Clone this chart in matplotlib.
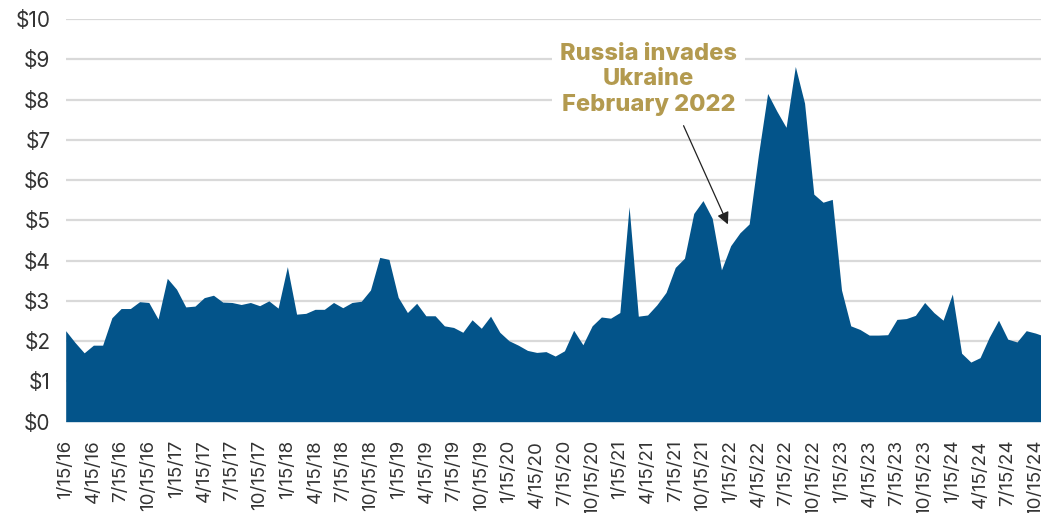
import matplotlib
matplotlib.use("Agg")
import matplotlib.pyplot as plt
import numpy as np
import pandas as pd

# Monthly values (USD), starting 1/15/16
values = [2.26, 1.97, 1.71, 1.90, 1.90, 2.58, 2.81, 2.81, 2.98, 2.96, 2.55, 3.56,
          3.29, 2.85, 2.87, 3.08, 3.14, 2.97, 2.96, 2.91, 2.96, 2.88, 3.00, 2.82,
          3.85, 2.67, 2.69, 2.79, 2.79, 2.96, 2.83, 2.96, 2.99, 3.27, 4.08, 4.03,
          3.09, 2.71, 2.94, 2.63, 2.63, 2.38, 2.34, 2.22, 2.53, 2.32, 2.62, 2.22,
          2.01, 1.90, 1.77, 1.72, 1.74, 1.63, 1.76, 2.27, 1.91, 2.38, 2.60, 2.57,
          2.71, 5.34, 2.62, 2.65, 2.90, 3.21, 3.83, 4.06, 5.17, 5.49, 5.05, 3.77,
          4.37, 4.69, 4.91, 6.62, 8.15, 7.71, 7.31, 8.82, 7.91, 5.65, 5.45, 5.52,
          3.27, 2.38, 2.29, 2.15, 2.15, 2.16, 2.54, 2.56, 2.64, 2.96, 2.71, 2.52,
          3.17, 1.70, 1.48, 1.59, 2.10, 2.52, 2.05, 1.98, 2.26, 2.20, 2.12, 2.50]

dates = pd.date_range("2016-01-01", periods=len(values), freq="MS") + pd.Timedelta(days=14)
date_labels = [f"{d.month}/{d.day}/{d.strftime('%y')}" for d in dates]

y_ticks = list(range(0, 11))
y_labels = [f"${v}" for v in y_ticks]

annotation_text = "Russia invades\nUkraine\nFebruary 2022"

area_color = "#03548a"
gold = "#b39a4f"
grid_color = "#d9d9d9"
text_color = "#333333"

plt.rcParams['font.family'] = ['Inter', 'DejaVu Sans']

fig = plt.figure(figsize=(10.41, 5.13), dpi=100)
ax = fig.add_axes([0.0631, 0.178, 0.9369, 0.785])

x = np.arange(len(values))
ax.fill_between(x, values, 0, color=area_color, linewidth=0, zorder=2)

ax.set_ylim(0, 10)
ax.set_xlim(0, 105.6)
ax.set_yticks(y_ticks)
ax.set_yticklabels(y_labels)
tick_idx = list(range(0, len(values), 3))
ax.set_xticks(tick_idx)
ax.set_xticklabels([date_labels[i] for i in tick_idx], rotation=90)

ax.yaxis.grid(True, color=grid_color, linewidth=1.6, zorder=0)
ax.set_axisbelow(True)
for s in ax.spines.values():
    s.set_visible(False)
ax.axhline(0, color="#c8c8c8", linewidth=1.2, linestyle=(0, (3, 2)), zorder=1)

ax.tick_params(axis='both', length=0, colors=text_color)
ax.tick_params(axis='y', labelsize=15, pad=11)
ax.tick_params(axis='x', labelsize=13.5, pad=13)

ax.text(63.1, 8.5, annotation_text, ha='center', va='center', color=gold,
        fontsize=17, fontweight='heavy', linespacing=1.22, zorder=5,
        bbox=dict(facecolor='white', edgecolor='none', pad=6))
ax.annotate("", xy=(71.7, 4.9), xytext=(66.9, 7.35),
            arrowprops=dict(arrowstyle="-|>", color="#222222", lw=0.9,
                            mutation_scale=18, shrinkA=0, shrinkB=0),
            zorder=6)

fig.savefig("out.png", dpi=100)
